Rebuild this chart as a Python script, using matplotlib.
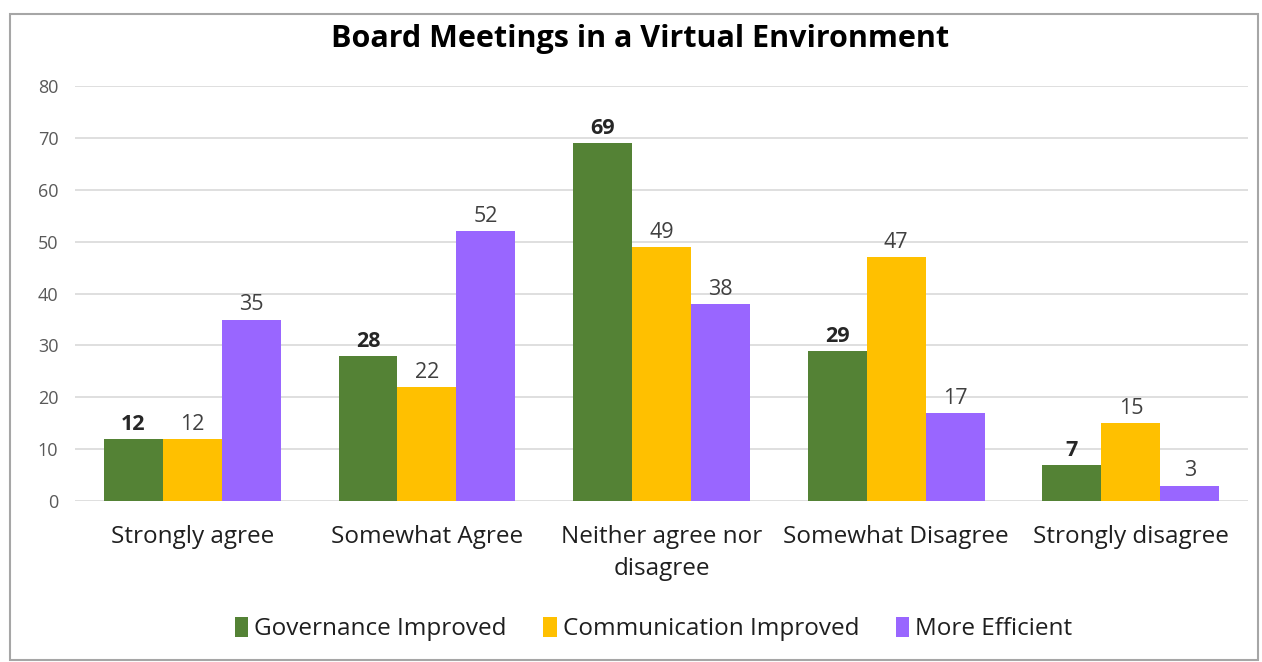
import numpy as np
import matplotlib.pyplot as plt
from matplotlib.patches import Rectangle

plt.rcParams['font.family'] = ['Open Sans', 'DejaVu Sans']

categories = ["Strongly agree", "Somewhat Agree", "Neither agree nor\ndisagree",
              "Somewhat Disagree", "Strongly disagree"]
series = ["Governance Improved", "Communication Improved", "More Efficient"]
governance = [12, 28, 69, 29, 7]
communication = [12, 22, 49, 47, 15]
efficient = [35, 52, 38, 17, 3]
colors = ["#548235", "#FFC000", "#9966FF"]

fig = plt.figure(figsize=(12.62, 6.62), dpi=100)
ax = fig.add_axes([0.0594, 0.243, 0.9296, 0.627])

x = np.arange(len(categories))
w = 0.251
for i, (vals, col, name) in enumerate(zip([governance, communication, efficient], colors, series)):
    pos = x + (i - 1) * w
    bars = ax.bar(pos, vals, w, color=col, label=name, zorder=3)
    for b, v in zip(bars, vals):
        ax.text(b.get_x() + b.get_width() / 2, v + 0.8, str(v), ha="center", va="bottom",
                fontsize=15.5, color="#262626" if i == 0 else "#404040",
                fontweight="bold" if i == 0 else "normal")

ax.set_xlim(-0.5, 4.5)
ax.set_ylim(0, 80)
ax.set_yticks(range(0, 81, 10))
ax.grid(axis="y", color="#D9D9D9", linewidth=1.2, zorder=0)
for s in ax.spines.values():
    s.set_visible(False)
ax.tick_params(axis="both", length=0)
ax.tick_params(axis="y", labelsize=13, labelcolor="#595959", pad=12)
ax.set_xticks(x)
ax.set_xticklabels(categories, fontsize=17.5, color="#1f1f1f", linespacing=1.45)
ax.tick_params(axis="x", pad=17)

fig.suptitle("Board Meetings in a Virtual Environment", fontsize=22, fontweight="bold",
             y=0.963, x=0.507)

leg = fig.legend(loc="center", bbox_to_anchor=(0.518, 0.050), ncol=3, frameon=False,
                 fontsize=17.5, handlelength=0.55, handleheight=0.9, handletextpad=0.25,
                 columnspacing=1.5)
for t in leg.get_texts():
    t.set_color("#1f1f1f")

fig.patches.append(Rectangle((0.008, 0.003), 0.989, 0.976, transform=fig.transFigure,
                             fill=False, edgecolor="#A6A6A6", linewidth=1.5))

fig.savefig("out.png", dpi=100)
